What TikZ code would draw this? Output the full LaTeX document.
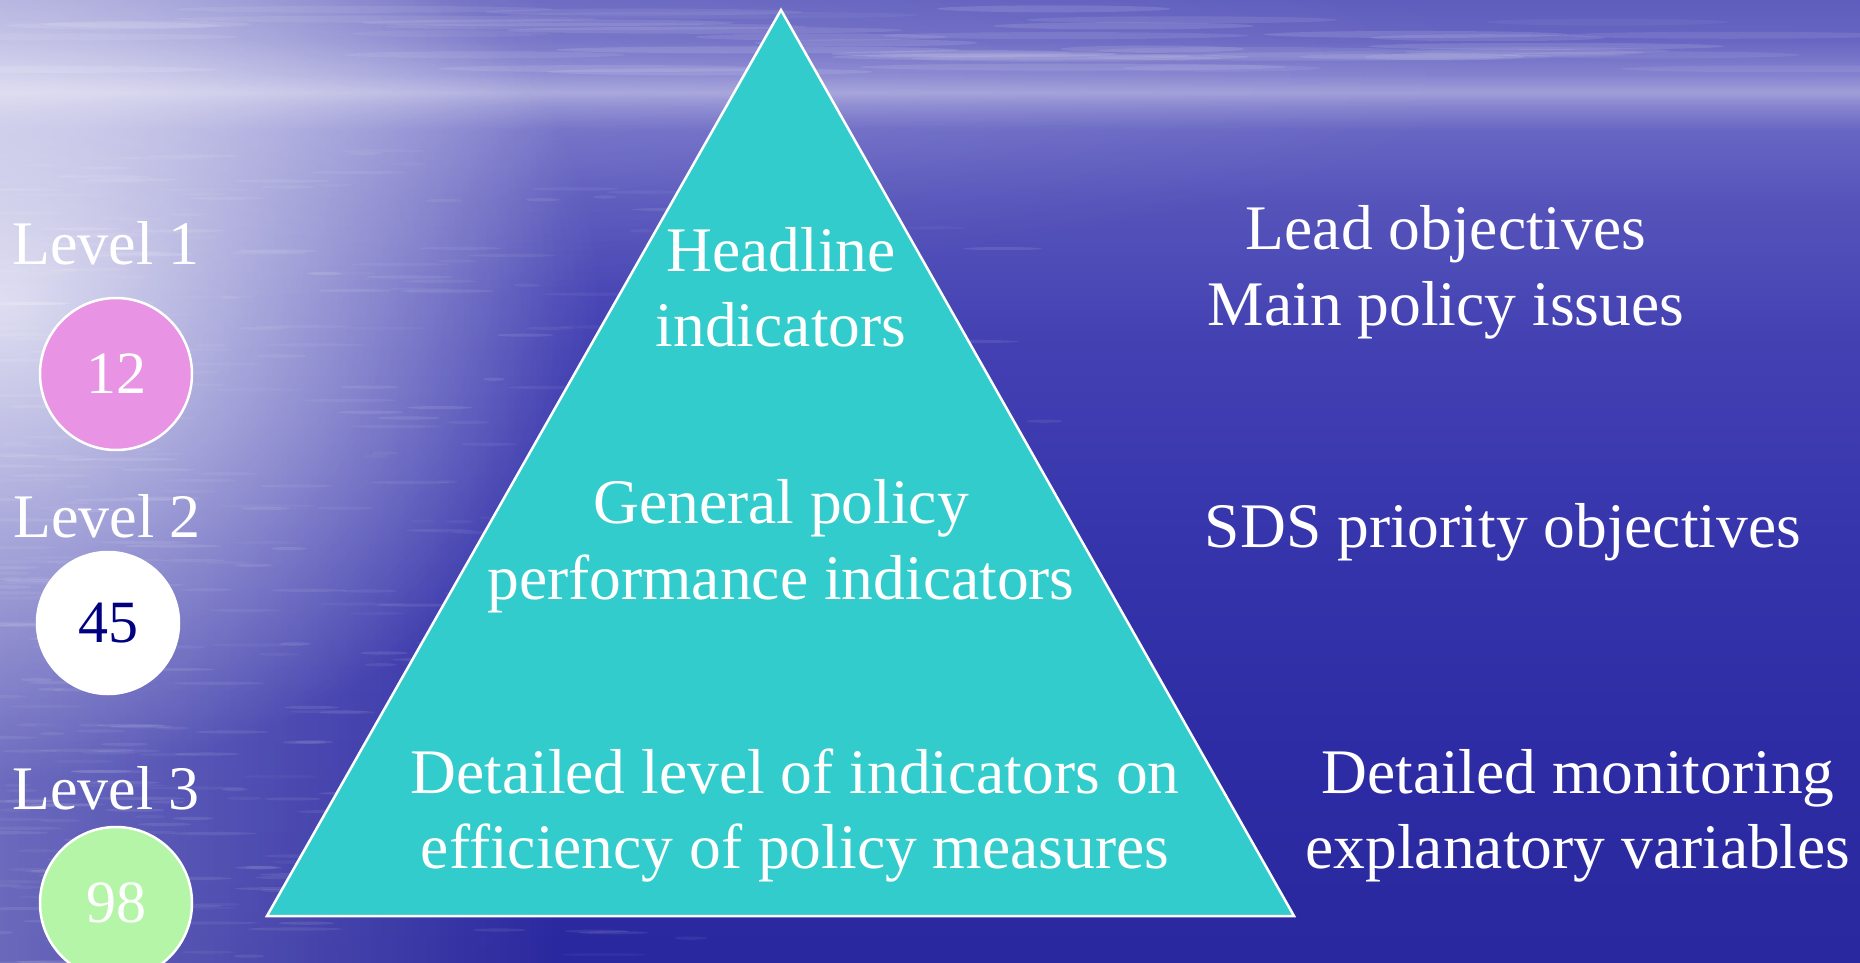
\documentclass[tikz,border=0pt]{standalone}
\usepackage{fontspec}
\setmainfont{Liberation Serif}
\usetikzlibrary{fadings}
\definecolor{tri}{HTML}{33CCCC}
\definecolor{pinkc}{HTML}{E893E3}
\definecolor{greenc}{HTML}{B5F5A8}
\definecolor{navyt}{HTML}{000080}
\definecolor{sA}{RGB}{42,40,158}
\definecolor{sB}{RGB}{46,44,164}
\definecolor{sC}{RGB}{54,52,171}
\definecolor{sD}{RGB}{66,64,178}
\definecolor{sE}{RGB}{86,84,186}
\definecolor{sF}{RGB}{104,102,195}
\definecolor{sG}{RGB}{136,134,207}
\definecolor{sH}{RGB}{160,158,216}
\definecolor{sI}{RGB}{133,131,207}
\definecolor{sJ}{RGB}{104,102,194}
\definecolor{sK}{RGB}{95,93,189}
% background vertical profile (picture spans 25bp..75bp of the shading)
\pgfdeclareverticalshading{skysea}{100bp}{%
  color(0bp)=(sA); color(25bp)=(sA); color(35.9bp)=(sB); color(46.4bp)=(sC);
  color(56.8bp)=(sD); color(64.6bp)=(sE); color(68.25bp)=(sF); color(69.55bp)=(sG);
  color(70.2bp)=(sH); color(71.1bp)=(sI); color(72.9bp)=(sJ); color(75bp)=(sK);
  color(100bp)=(sK)}
\tikzfading[name=glowfade, inner color=transparent!0, outer color=transparent!100]
\tikzfading[name=leftfade, left color=transparent!0, right color=transparent!100]
\tikzset{
  txt/.style={text=white, font=\fontsize{63.5}{76}\selectfont, anchor=base, inner sep=0pt},
  lvl/.style={text=white, font=\fontsize{62}{74}\selectfont, anchor=base, inner sep=0pt},
  num/.style={circle, draw=white, line width=2.5pt, minimum size=152pt, inner sep=0pt, font=\fontsize{60}{70}\selectfont},
}
\begin{document}
\begin{tikzpicture}[x=1pt,y=-1pt]
\useasboundingbox (0,0) rectangle (1860,963);
% background
\shade[shading=skysea] (0,0) rectangle (1860,963);
\fill[white, path fading=leftfade, fill opacity=0.3] (0,0) rectangle (560,963);
\fill[white, path fading=glowfade, fill opacity=0.75] (0,300) ellipse [x radius=600, y radius=480];
\fill[white, path fading=glowfade, fill opacity=0.18] (0,70) ellipse [x radius=1500, y radius=240];
% ripples and cloud streaks
\pgfmathsetseed{7}
\foreach \i in {1,...,380}{
  \pgfmathsetmacro{\rx}{1100*rnd*rnd}
  \pgfmathsetmacro{\ry}{150+813*rnd}
  \pgfmathsetmacro{\rl}{10+40*rnd}
  \pgfmathsetmacro{\op}{0.03+0.07*rnd}
  \fill[white, fill opacity=\op] (\rx,\ry) ellipse [x radius=\rl, y radius=1.6];
}
\foreach \i in {1,...,45}{
  \pgfmathsetmacro{\rx}{1860*rnd}
  \pgfmathsetmacro{\ry}{8+65*rnd}
  \pgfmathsetmacro{\rl}{80+140*rnd}
  \pgfmathsetmacro{\op}{0.04+0.08*rnd}
  \fill[white, fill opacity=\op] (\rx,\ry) ellipse [x radius=\rl, y radius=3.5];
}
% triangle
\coordinate (apex) at (781,10);
\coordinate (bl) at (267,916);
\coordinate (br) at (1294,916);
\filldraw[fill=tri, draw=white, line width=2.5pt, line join=miter] (apex) -- (bl) -- (br) -- cycle;
% triangle texts
\node[txt] (h1) at (781,271) {Headline};
\node[txt] (h2) at (781,346) {indicators};
\node[txt] (g1) at (781,523) {General policy};
\node[txt] (g2) at (781,599) {performance indicators};
\node[txt] (d1) at (795,793) {Detailed level of indicators on};
\node[txt] (d2) at (795,868) {efficiency of policy measures};
% right texts
\node[txt] (r1) at (1446,249) {Lead objectives};
\node[txt] (r2) at (1446,325) {Main policy issues};
\node[txt] (r3) at (1503,547) {SDS priority objectives};
\node[txt] (r4) at (1578,793) {Detailed monitoring};
\node[txt] (r5) at (1578,868) {explanatory variables};
% levels
\node[lvl] (l1) at (106,264) {Level 1};
\node[lvl] (l2) at (107,537) {Level 2};
\node[lvl] (l3) at (106,809) {Level 3};
\node[num, fill=pinkc, text=white] (c1) at (116,374) {12};
\node[num, fill=white, text=navyt, minimum size=142pt] (c2) at (108,623) {45};
\node[num, fill=greenc, text=white] (c3) at (116,903) {98};
\end{tikzpicture}
\end{document}
